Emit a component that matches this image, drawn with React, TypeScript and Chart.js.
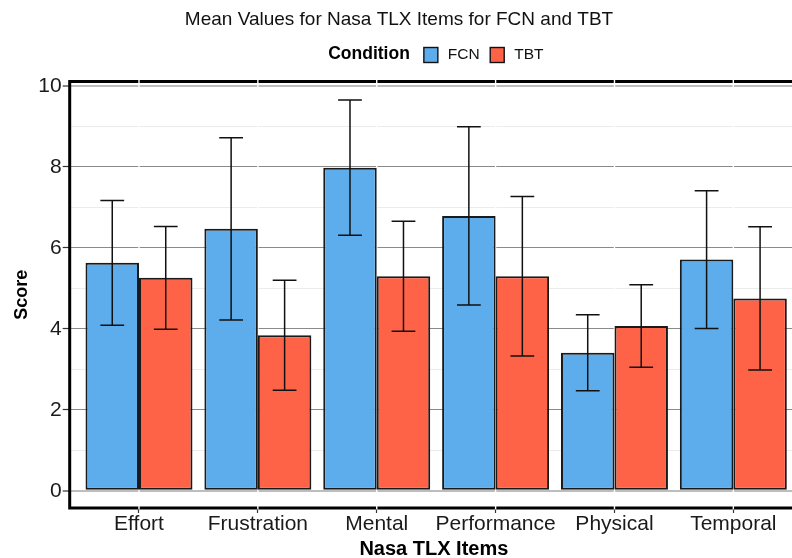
import React, { useEffect, useRef } from "react";
import { Chart, registerables } from "chart.js";

Chart.register(...registerables);

// ---- data ----
const categories = ["Effort", "Frustration", "Mental", "Performance", "Physical", "Temporal"];
const seriesNames = ["FCN", "TBT"];
const fcnMeans = [5.63, 6.47, 7.98, 6.79, 3.41, 5.71];
const fcnSd = [1.54, 2.25, 1.67, 2.2, 0.94, 1.7];
const tbtMeans = [5.26, 3.84, 5.3, 5.3, 4.07, 4.75];
const tbtSd = [1.27, 1.36, 1.36, 1.97, 1.02, 1.77];
const yMajorTicks = [0, 2, 4, 6, 8, 10];
const yMinorTicks = [1, 3, 5, 7, 9];

const titleText = "Mean Values for Nasa TLX Items for FCN and TBT";
const legendTitle = "Condition";
const xTitle = "Nasa TLX Items";
const yTitle = "Score";

const yAxisMin = -0.427;
const yAxisMax = 10.11;
const xAxisMin = 0.417;
const xAxisMax = 6.544;
const errorCapWidth = 0.2;

const FONT = "'Liberation Sans', Arial, sans-serif";
const colors = ["#5DADEC", "#FF6347"];

const errorBarPlugin = {
  id: "errorBars",
  afterDatasetsDraw(chart: any) {
    const { ctx } = chart;
    const xs = chart.scales.x;
    const ys = chart.scales.y;
    const capHalf = Math.abs(xs.getPixelForValue(1 + errorCapWidth / 2) - xs.getPixelForValue(1));
    ctx.save();
    ctx.strokeStyle = "#111";
    ctx.lineWidth = 1.5;
    chart.data.datasets.forEach((ds: any, di: number) => {
      const meta = chart.getDatasetMeta(di);
      meta.data.forEach((bar: any, i: number) => {
        const m = ds.data[i].y;
        const e = ds.errors[i];
        const yt = ys.getPixelForValue(m + e);
        const yb = ys.getPixelForValue(m - e);
        const x = bar.x;
        ctx.beginPath();
        ctx.moveTo(x, yt);
        ctx.lineTo(x, yb);
        ctx.moveTo(x - capHalf, yt);
        ctx.lineTo(x + capHalf, yt);
        ctx.moveTo(x - capHalf, yb);
        ctx.lineTo(x + capHalf, yb);
        ctx.stroke();
      });
    });
    ctx.restore();
  },
};

const panelPlugin = {
  id: "panelBorder",
  beforeDatasetsDraw(chart: any) {
    const { ctx, chartArea } = chart;
    const { left, right, top, bottom } = chartArea;
    ctx.save();
    ctx.strokeStyle = "#000";
    ctx.lineWidth = 3;
    ctx.strokeRect(left, top, right - left, bottom - top);
    // white vertical major grid lines at category positions
    const xs = chart.scales.x;
    ctx.strokeStyle = "#ffffff";
    ctx.lineWidth = 1.4;
    xs.ticks.forEach((t: any) => {
      const px = xs.getPixelForValue(t.value);
      ctx.beginPath();
      ctx.moveTo(px, top - 1.6);
      ctx.lineTo(px, bottom + 1.6);
      ctx.stroke();
    });
    ctx.restore();
  },
};

const legendPlugin = {
  id: "inlineLegend",
  afterDraw(chart: any) {
    const { ctx, chartArea } = chart;
    const cy = 54.5;
    const box = 14;
    ctx.save();
    const tFont = `bold 17.5px ${FONT}`;
    const iFont = `15.5px ${FONT}`;
    ctx.font = tFont;
    const wT = ctx.measureText(legendTitle).width;
    ctx.font = iFont;
    const items = chart.data.datasets.map((d: any) => ({
      label: d.label,
      color: d.backgroundColor,
      w: ctx.measureText(d.label).width,
    }));
    let total = wT + 14;
    items.forEach((it: any, i: number) => {
      total += box + 10 + it.w + (i < items.length - 1 ? 10.5 : 0);
    });
    let x = (chartArea.left + chartArea.right) / 2 + 2 - total / 2;
    ctx.textBaseline = "middle";
    ctx.textAlign = "left";
    ctx.fillStyle = "#000";
    ctx.font = tFont;
    ctx.fillText(legendTitle, x, cy);
    x += wT + 14;
    ctx.font = iFont;
    items.forEach((it: any) => {
      ctx.fillStyle = it.color;
      ctx.fillRect(x, cy - box / 2, box, box + 1);
      ctx.strokeStyle = "#111";
      ctx.lineWidth = 1.4;
      ctx.strokeRect(x, cy - box / 2, box, box + 1);
      x += box + 10;
      ctx.fillStyle = "#111";
      ctx.fillText(it.label, x, cy);
      x += it.w + 10.5;
    });
    ctx.restore();
  },
};

export default function App() {
  const ref = useRef<HTMLCanvasElement>(null);

  useEffect(() => {
    const makeData = (vals: number[]) => vals.map((v, i) => ({ x: i + 1, y: v }));
    const chart = new Chart(ref.current as HTMLCanvasElement, {
      type: "bar",
      data: {
        datasets: [
          {
            label: seriesNames[0],
            data: makeData(fcnMeans),
            errors: fcnSd,
            backgroundColor: colors[0],
            borderColor: "#1a1a1a",
            borderWidth: 2,
            borderSkipped: false,
            categoryPercentage: 0.9,
            barPercentage: 1,
          } as any,
          {
            label: seriesNames[1],
            data: makeData(tbtMeans),
            errors: tbtSd,
            backgroundColor: colors[1],
            borderColor: "#1a1a1a",
            borderWidth: 2,
            borderSkipped: false,
            categoryPercentage: 0.9,
            barPercentage: 1,
          } as any,
        ],
      },
      options: {
        animation: false,
        responsive: false,
        layout: { padding: { left: 0, right: 2, top: 0, bottom: 0 } },
        plugins: {
          legend: { display: false },
          tooltip: { enabled: false },
          title: {
            display: true,
            text: titleText,
            color: "#111",
            font: { family: FONT, size: 19, weight: "normal" },
            padding: { top: 8, bottom: 50.7 },
          },
        },
        scales: {
          x: {
            type: "linear",
            min: xAxisMin,
            max: xAxisMax,
            offset: false,
            afterBuildTicks: (s: any) => {
              s.ticks = categories.map((_, i) => ({ value: i + 1 }));
            },
            afterFit: (s: any) => {
              s.height = 50;
            },
            ticks: {
              autoSkip: false,
              maxRotation: 0,
              minRotation: 0,
              padding: 0,
              color: "#1a1a1a",
              font: { family: FONT, size: 21, lineHeight: 1.1 },
              callback: (v: any) => categories[Math.round(Number(v)) - 1] ?? "",
            },
            grid: {
              offset: false,
              drawOnChartArea: false,
              drawTicks: true,
              tickLength: 5,
              tickColor: "#333",
              tickWidth: 1.2,
            },
            border: { display: false },
            title: {
              display: true,
              text: xTitle,
              color: "#000",
              font: { family: FONT, size: 20, weight: "bold", lineHeight: 1 },
              padding: { top: 0, bottom: -1 },
            },
          },
          y: {
            type: "linear",
            min: yAxisMin,
            max: yAxisMax,
            afterBuildTicks: (s: any) => {
              s.ticks = [...yMajorTicks, ...yMinorTicks]
                .sort((a, b) => a - b)
                .map((v) => ({ value: v }));
            },
            afterFit: (s: any) => {
              s.width = 69.7;
            },
            ticks: {
              padding: 1,
              color: "#1a1a1a",
              font: { family: FONT, size: 21 },
              callback: (v: any) => (yMajorTicks.includes(Number(v)) ? String(v) : ""),
            },
            grid: {
              drawTicks: true,
              tickLength: 7,
              color: (c: any) => {
                const v = c.tick?.value;
                if (v === 0 || v === 10) return "#bdbdbd";
                return yMajorTicks.includes(v) ? "#8a8a8a" : "#ececec";
              },
              lineWidth: (c: any) => {
                const v = c.tick?.value;
                return v === 0 || v === 10 ? 2 : 1;
              },
              tickColor: (c: any) => (yMajorTicks.includes(c.tick?.value) ? "#333" : "rgba(0,0,0,0)"),
              tickWidth: 1.2,
            },
            border: { display: false },
            title: {
              display: true,
              text: yTitle,
              color: "#000",
              font: { family: FONT, size: 18, weight: "bold" },
              padding: { top: 11.2, bottom: 0 },
            },
          },
        },
      } as any,
      plugins: [panelPlugin, errorBarPlugin, legendPlugin],
    });
    return () => chart.destroy();
  }, []);

  return (
    <div
      style={{
        position: "fixed",
        left: 0,
        top: 0,
        width: 792,
        height: 558,
        overflow: "hidden",
        background: "#ffffff",
      }}
    >
      <canvas ref={ref} width={800} height={558} style={{ display: "block" }} />
    </div>
  );
}
